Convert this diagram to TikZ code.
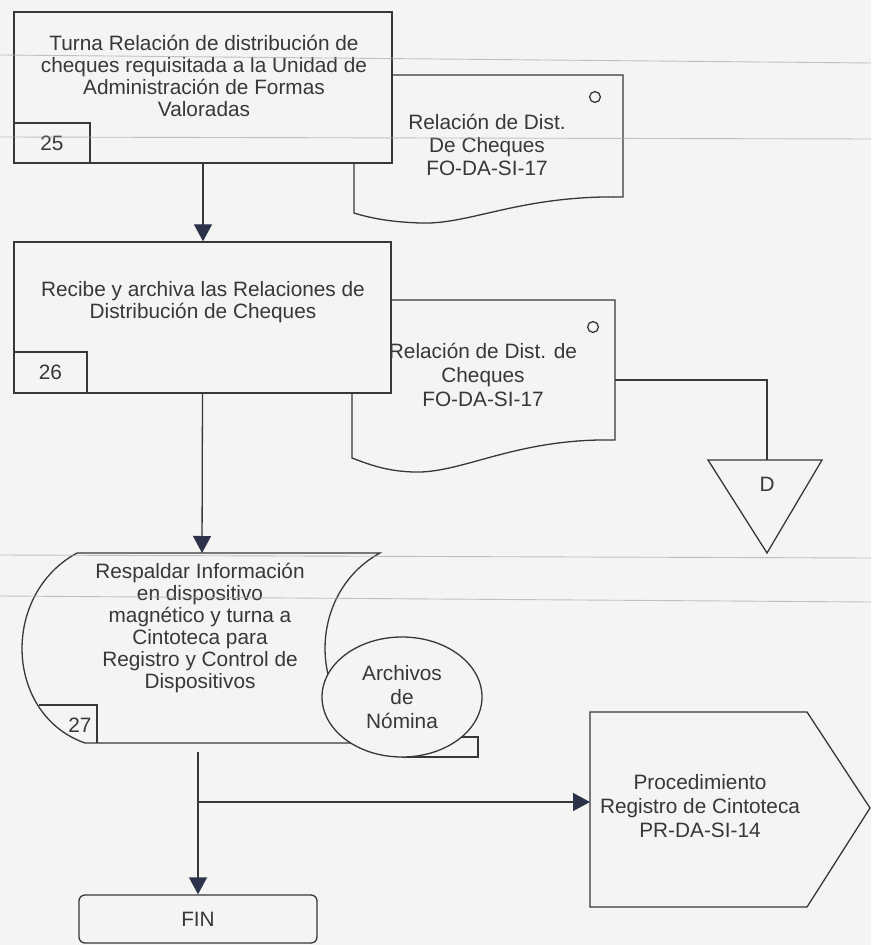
\documentclass[tikz,border=0pt]{standalone}
\usepackage{fontspec}
\setmainfont{Liberation Sans}
\usetikzlibrary{arrows.meta,shapes.geometric,positioning}
\definecolor{paper}{RGB}{244,244,242}
\definecolor{inkgray}{RGB}{55,55,60}
\definecolor{tipnavy}{RGB}{45,50,75}
\definecolor{scanline}{RGB}{170,170,170}

\begin{document}
\begin{tikzpicture}[x=0.5pt,y=-0.5pt,
  every node/.style={font=\fontsize{10.4}{11}\selectfont, text=inkgray},
  line/.style={draw=inkgray, line width=0.65pt},
  flow/.style={line, -{Triangle[width=9pt,length=8.5pt,color=tipnavy]}},
  procbox/.style={line, fill=paper, rectangle, inner sep=0pt},
  tabbox/.style={line, fill=paper, rectangle, inner sep=0pt, anchor=south west},
  txt/.style={align=center, inner sep=0pt},
  hole/.style={line, circle, inner sep=0pt, minimum size=5.4pt}]
  \useasboundingbox (0,0) rectangle (871,945);
  \fill[paper] (0,0) rectangle (871,945);

  % documents (behind the steps)
  \draw[line, fill=paper] (354,75) -- (623,75) -- (623,197)
    .. controls (520,195) and (470,225) .. (420,223)
    .. controls (390,222) and (370,218) .. (354,213) -- cycle;
  \draw[line, fill=paper] (352,300) -- (615,300) -- (615,440)
    .. controls (515,438) and (462,474) .. (413,472)
    .. controls (385,471) and (368,464) .. (352,458) -- cycle;
  \node[txt, font=\fontsize{10.4}{11.5}\selectfont] (rel1) at (487,145)
    {Relación de Dist.\\De Cheques\\FO-DA-SI-17};
  \node[txt, font=\fontsize{10.4}{12}\selectfont] (rel2) at (483,375)
    {Relación de Dist. de\\Cheques\\FO-DA-SI-17};
  \node[hole] (o1) at (595,97) {};
  \node[hole] (o2) at (593,327) {};
  \coordinate (rel2e) at (615,380);

  % steps 25 and 26
  \node[procbox, minimum width=189pt, minimum height=75.5pt] (s25) at (203,87.5) {};
  \node[txt] (t25) at (204,76)
    {Turna Relación de distribución de\\cheques requisitada a la Unidad de\\Administración de Formas\\Valoradas};
  \node[tabbox, minimum width=38pt, minimum height=20pt] (n25) at (s25.south west) {25};
  \node[procbox, minimum width=188.5pt, minimum height=75.5pt] (s26) at (202.5,317.5) {};
  \node[txt] (t26) at (203,302)
    {Recibe y archiva las Relaciones de\\Distribución de Cheques};
  \node[tabbox, minimum width=36.5pt, minimum height=20.5pt] (n26) at (s26.south west) {26};

  % step 27, stored data
  \draw[line, fill=paper] (77,553) -- (380,553)
    .. controls (303,595) and (308,715) .. (388,743) -- (85,743)
    .. controls (5,715) and (0,595) .. (77,553) -- cycle;
  \coordinate (s27n) at (202,553);
  \coordinate (s27s) at (198,752);
  \node[txt] (t27) at (200,628)
    {Respaldar Información\\en dispositivo\\magnético y turna a\\Cintoteca para\\Registro y Control de\\Dispositivos};
  \draw[line] (39,705) -- (97,705) -- (97,743);
  \node[txt] (n27) at (80,725) {27};

  % tape
  \draw[line] (455,737) -- (478,737) -- (478,757) -- (402,757);
  \node[line, ellipse, fill=paper, minimum width=80pt, minimum height=60pt,
    inner sep=0pt, align=center, font=\fontsize{10.4}{11.8}\selectfont] (arch) at (402,697)
    {Archivos\\de\\Nómina};

  % off-page connector D
  \draw[line, fill=paper] (708,460) -- (822,460) -- (767,553) -- cycle;
  \coordinate (dtop) at (767,460);
  \node[txt] (dl) at (767,484) {D};
  \draw[line] (rel2e) -| (dtop);

  % procedure
  \draw[line, fill=paper] (590,712) -- (807,712) -- (870,808) -- (807,907) -- (590,907) -- cycle;
  \node[txt, font=\fontsize{10.4}{12}\selectfont] (tproc) at (700,806)
    {Procedimiento\\Registro de Cintoteca\\PR-DA-SI-14};
  \coordinate (procw) at (590,802);

  \node[line, fill=paper, rounded corners=3pt, minimum width=119pt, minimum height=24pt] (fin) at (198,919) {FIN};

  % connectors
  \coordinate (split) at (198,802);
  \draw[flow] (s25.south) -- (s25.south |- s26.north);
  \draw[flow] (s26.south) -- (s27n);
  \draw[line] (s27s) -- (split);
  \draw[flow] (split) -- (fin.north);
  \draw[flow] (split) -- (procw);

  % ruling of the scanned page
  \foreach \ya/\yb in {55/63, 137/139, 555/558, 596/602}
    \draw[scanline, line width=0.45pt, opacity=0.7] (0,\ya) -- (871,\yb);
\end{tikzpicture}
\end{document}
